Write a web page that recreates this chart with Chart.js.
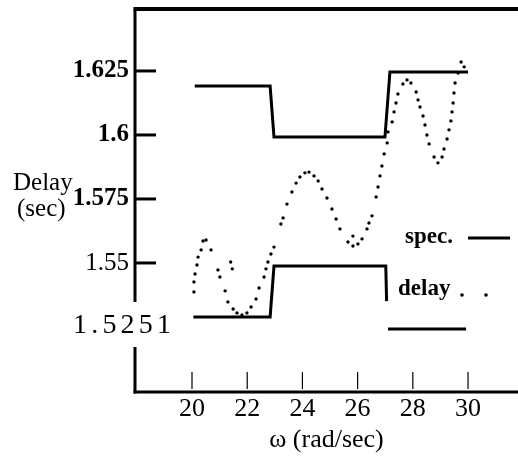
<!DOCTYPE html>
<html>
<head>
<meta charset="utf-8">
<title>Delay vs frequency</title>
<script src="https://cdn.jsdelivr.net/npm/chart.js@4/dist/chart.umd.min.js"></script>
<style>
  html, body { margin: 0; padding: 0; background: #ffffff; }
  #delay-chart { display: block; }
</style>
</head>
<body>
<canvas id="delay-chart" width="518" height="464"></canvas>
<script>
/************************************************************
    Delay (sec) against w (rad/sec), spec. band and delay
*************************************************************/

// axis ticks
var xTicks = [20, 22, 24, 26, 28, 30];
var yTicks = [1.55, 1.575, 1.6, 1.625];
var yTickLabels = ['1.55', '1.575', '1.6', '1.625'];
var yTickBold = [false, true, true, true];

// upper spec. line
var specUpperW = [20.1, 22.83, 22.97, 26.99, 27.17, 30.0];
var specUpper  = [1.6191, 1.6191, 1.5992, 1.5992, 1.6246, 1.6246];

// lower spec. line (broken where the legend sits)
var specLowerW = [20.05, 22.83, 22.97, 27.02, 27.05, 27.08, 27.1, 29.93];
var specLower  = [1.5289, 1.5289, 1.5488, 1.5488, 1.5351, null, 1.5242, 1.5242];

// delay, read dot by dot off the curve
var delayW = [20.07, 20.07, 20.11, 20.18, 20.22, 20.33, 20.40, 20.51, 20.69, 20.94,
              21.01, 21.20, 21.30, 21.49, 21.63, 21.81, 21.99, 22.14, 22.32, 22.43,
              22.61, 22.68, 22.75, 22.86, 22.97, 23.22, 23.30, 23.44, 23.62, 23.77,
              23.91, 24.09, 24.24, 24.42, 24.57, 24.71, 24.89, 25.07, 25.22, 25.36,
              25.65, 25.83, 26.01, 26.16, 26.34, 26.41, 26.52, 26.67, 26.74, 26.81,
              26.88, 26.96, 27.07, 27.10, 27.25, 27.32, 27.39, 27.46, 27.64, 27.79,
              27.93, 28.12, 28.19, 28.26, 28.37, 28.44, 28.51, 28.59, 28.77, 28.91,
              29.06, 29.13, 29.24, 29.31, 29.38, 29.42, 29.46, 29.49, 29.53, 29.64,
              29.75, 29.86, 21.40, 21.46, 25.83];
var delay  = [1.5387, 1.5426, 1.5457, 1.5492, 1.5523, 1.5551, 1.5586, 1.5590, 1.5551, 1.5473,
              1.5445, 1.5391, 1.5348, 1.5320, 1.5305, 1.5297, 1.5305, 1.5328, 1.5359, 1.5402,
              1.5445, 1.5477, 1.5504, 1.5535, 1.5562, 1.5652, 1.5676, 1.5730, 1.5777, 1.5812,
              1.5836, 1.5852, 1.5855, 1.5840, 1.5820, 1.5789, 1.5754, 1.5711, 1.5672, 1.5633,
              1.5582, 1.5566, 1.5574, 1.5594, 1.5633, 1.5656, 1.5684, 1.5758, 1.5797, 1.5840,
              1.5879, 1.5926, 1.5969, 1.6012, 1.6051, 1.6090, 1.6125, 1.6160, 1.6199, 1.6215,
              1.6203, 1.6168, 1.6137, 1.6109, 1.6074, 1.6039, 1.6000, 1.5965, 1.5914, 1.5891,
              1.5914, 1.5945, 1.5984, 1.6020, 1.6055, 1.6090, 1.6125, 1.6164, 1.6203, 1.6242,
              1.6285, 1.6266, 1.5504, 1.5477, 1.5605];

var serif = "'Liberation Serif', 'Times New Roman', serif";

//turn two arrays into {x, y} points
function toPoints(xs, ys) {
    var pts = [];
    for (var i = 0; i < xs.length; i++) {
        pts.push({ x: xs[i], y: ys[i] });
    }
    return pts;
}

function strokeLine(ctx, x1, y1, x2, y2) {
    ctx.beginPath();
    ctx.moveTo(x1, y1);
    ctx.lineTo(x2, y2);
    ctx.stroke();
}

//frame, inward tick marks, the odd "1.5251" label, y title and legend
var paperPlugin = {
    id: 'paperPlugin',
    afterDraw: function (chart) {
        var ctx = chart.ctx;
        var a = chart.chartArea;
        var xs = chart.scales.x;
        var ys = chart.scales.y;
        ctx.save();
        ctx.strokeStyle = '#000';
        ctx.fillStyle = '#000';

        // top frame line, left and bottom axes
        ctx.lineWidth = 4;
        strokeLine(ctx, a.left - 1.5, a.top, a.right, a.top);
        ctx.lineWidth = 3;
        strokeLine(ctx, a.left, a.top, a.left, a.bottom + 1.5);
        strokeLine(ctx, a.left - 1.5, a.bottom, a.right, a.bottom);

        // y tick marks point into the plot
        yTicks.forEach(function (v) {
            var y = ys.getPixelForValue(v);
            strokeLine(ctx, a.left, y, a.left + 21, y);
        });
        // thin x tick marks, also inside
        ctx.lineWidth = 1.2;
        xTicks.forEach(function (v) {
            var x = xs.getPixelForValue(v);
            strokeLine(ctx, x, a.bottom - 20, x, a.bottom - 3);
        });

        // "1.5251" sits across the axis, with a white gap behind it
        var yLab = ys.getPixelForValue(1.525);
        ctx.fillStyle = '#fff';
        ctx.fillRect(a.left - 4, yLab - 25, 8, 45);
        ctx.fillStyle = '#000';
        ctx.font = '28px ' + serif;
        ctx.textBaseline = 'alphabetic';
        ctx.textAlign = 'left';
        var chars = '1.5251'.split('');
        var cx = 73;
        chars.forEach(function (c) {
            ctx.fillText(c, cx, yLab + 6);
            cx += ctx.measureText(c).width + 4.2;
        });

        // y axis title, horizontal in two lines
        ctx.font = '25px ' + serif;
        ctx.fillText('Delay', 13, 190);
        ctx.fillText('(sec)', 17, 216);

        // legend
        ctx.font = 'bold 23px ' + serif;
        ctx.fillText('spec.', 405, 243);
        ctx.fillText('delay', 398, 295);
        ctx.lineWidth = 3;
        strokeLine(ctx, 468, 238, 510, 238);
        [462, 486].forEach(function (dx) {
            ctx.beginPath();
            ctx.arc(dx, 295, 1.8, 0, Math.PI * 2);
            ctx.fill();
        });
        ctx.restore();
    }
};

//no automatic edge padding, the frame must sit where the paper has it
function noEdgePadding(scale) {
    scale.paddingTop = 0;
    scale.paddingBottom = 0;
    scale.paddingLeft = 0;
    scale.paddingRight = 0;
}

new Chart(document.getElementById('delay-chart'), {
    type: 'scatter',
    data: {
        datasets: [
            {
                label: 'spec.',
                data: toPoints(specUpperW, specUpper),
                showLine: true,
                borderColor: '#000',
                borderWidth: 3,
                pointRadius: 0,
                pointHoverRadius: 0,
                spanGaps: false
            },
            {
                label: 'spec.',
                data: toPoints(specLowerW, specLower),
                showLine: true,
                borderColor: '#000',
                borderWidth: 3,
                pointRadius: 0,
                pointHoverRadius: 0,
                spanGaps: false
            },
            {
                label: 'delay',
                data: toPoints(delayW, delay),
                showLine: false,
                backgroundColor: '#000',
                borderWidth: 0,
                pointRadius: 1.7,
                pointHoverRadius: 1.7
            }
        ]
    },
    options: {
        responsive: false,
        animation: false,
        layout: { autoPadding: false, padding: { top: 9, left: 0, right: 0, bottom: 0 } },
        plugins: {
            legend: { display: false },
            tooltip: { enabled: false }
        },
        scales: {
            x: {
                type: 'linear',
                min: 17.935,
                max: 31.81,
                grid: { display: false, drawTicks: false },
                border: { display: false },
                afterBuildTicks: function (scale) {
                    scale.ticks = xTicks.map(function (v) { return { value: v }; });
                },
                afterFit: function (scale) {
                    scale.height = 72;
                    noEdgePadding(scale);
                },
                ticks: {
                    color: '#000',
                    padding: 2,
                    maxRotation: 0,
                    font: { family: serif, size: 26 },
                    callback: function (value) { return String(value); }
                },
                title: {
                    display: true,
                    text: 'ω (rad/sec)',
                    color: '#000',
                    font: { family: serif, size: 26 },
                    padding: { top: 0, bottom: 8 }
                }
            },
            y: {
                type: 'linear',
                min: 1.4996,
                max: 1.6492,
                grid: { display: false, drawTicks: false },
                border: { display: false },
                afterBuildTicks: function (scale) {
                    scale.ticks = yTicks.map(function (v) { return { value: v }; });
                },
                afterFit: function (scale) {
                    scale.width = 135;
                    noEdgePadding(scale);
                },
                ticks: {
                    color: '#000',
                    padding: 6,
                    font: function (c) {
                        return { family: serif, size: 25, weight: yTickBold[c.index] ? 'bold' : 'normal' };
                    },
                    callback: function (value, i) { return yTickLabels[i]; }
                }
            }
        }
    },
    plugins: [paperPlugin]
});
</script>
</body>
</html>
